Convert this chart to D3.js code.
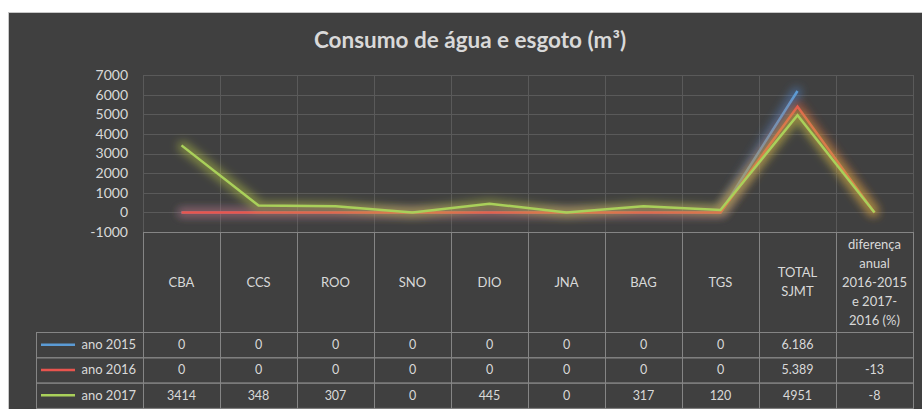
<!DOCTYPE html>
<html>
<head>
<meta charset="utf-8">
<script src="https://d3js.org/d3.v7.min.js"></script>
<style>
  body { margin: 0; background: #fff; }
  svg text { font-family: Lato, "Open Sans", sans-serif; fill: #d9d9d9; }
</style>
</head>
<body>
<div id="chart"></div>
<script>
// categories (table columns)
var categories = ["CBA", "CCS", "ROO", "SNO", "DIO", "JNA", "BAG", "TGS", "TOTAL SJMT", "diferença anual 2016-2015 e 2017-2016 (%)"];
var series = ["ano 2015", "ano 2016", "ano 2017"];
var v2015 = [0, 0, 0, 0, 0, 0, 0, 0, 6186, null];
var v2016 = [0, 0, 0, 0, 0, 0, 0, 0, 5389, -13];
var v2017 = [3414, 348, 307, 0, 445, 0, 317, 120, 4951, -8];
var yTicks = [-1000, 0, 1000, 2000, 3000, 4000, 5000, 6000, 7000];
var colors = ["#5b9bd5", "#e8544e", "#a9d05a"];
var glows = ["#4f86d0", "#d8563c", "#b9c845"];
// header lines for multi-line columns
var headerLines = {
  "TOTAL SJMT": ["TOTAL", "SJMT"],
  "diferença anual 2016-2015 e 2017-2016 (%)": ["diferença", "anual", "2016-2015", "e 2017-", "2016 (%)"]
};
var totalDotted = [true, true, false];

var W = 922, H = 409;
var values = [v2015, v2016, v2017];

var svg = d3.select('#chart').append('svg')
    .attr('width', W).attr('height', H);

// glow filters
var defs = svg.append('defs');
glows.forEach(function(c, i) {
  var f = defs.append('filter').attr('id', 'glow' + i)
      .attr('x', '-20%').attr('y', '-20%').attr('width', '140%').attr('height', '140%');
  f.append('feMorphology').attr('in', 'SourceAlpha').attr('operator', 'dilate').attr('radius', 2.5).attr('result', 'dil');
  f.append('feGaussianBlur').attr('in', 'dil').attr('stdDeviation', 4.5).attr('result', 'blur');
  f.append('feFlood').attr('flood-color', c).attr('flood-opacity', 0.5).attr('result', 'col');
  f.append('feComposite').attr('in', 'col').attr('in2', 'blur').attr('operator', 'in').attr('result', 'g');
  var m = f.append('feMerge');
  m.append('feMergeNode').attr('in', 'g');
  m.append('feMergeNode').attr('in', 'SourceGraphic');
});

svg.append('rect')
    .attr('x', 8.5).attr('y', 12.5).attr('width', W).attr('height', H)
    .attr('fill', '#404040').attr('stroke', '#c8c8c8');

svg.append('text')
    .attr('x', 470).attr('y', 48)
    .attr('text-anchor', 'middle')
    .style('font-size', '22.5px').style('font-weight', 'bold')
    .attr('fill', '#e6e6e6')
    .text('Consumo de água e esgoto (m³)');

var x = d3.scaleBand().domain(categories).range([143, 913]);
var y = d3.scaleLinear().domain([-1000, 7000]).range([232, 75]);

// gridlines
var grid = svg.append('g').attr('stroke', '#5a5a5a').attr('stroke-width', 1);
grid.selectAll('line.h').data(yTicks).enter().append('line')
    .attr('x1', 143).attr('x2', 913)
    .attr('y1', function(d) { return Math.round(y(d)) + 0.5; })
    .attr('y2', function(d) { return Math.round(y(d)) + 0.5; });
grid.selectAll('line.v').data(categories.concat([null])).enter().append('line')
    .attr('x1', function(d, i) { return Math.round(143 + i * x.bandwidth()) + 0.5; })
    .attr('x2', function(d, i) { return Math.round(143 + i * x.bandwidth()) + 0.5; })
    .attr('y1', y(7000)).attr('y2', y(-1000));

// y axis labels
var yAxis = d3.axisLeft(y).tickValues(yTicks).tickSize(0).tickPadding(0)
    .tickFormat(function(d) { return String(d); });
var ga = svg.append('g').attr('transform', 'translate(128,0)').call(yAxis);
ga.select('.domain').remove();
ga.selectAll('text').style('font-size', '14px').attr('fill', '#d9d9d9')
    .style('font-family', 'Lato, sans-serif');

// lines
var line = d3.line()
    .defined(function(d) { return d != null; })
    .x(function(d, i) { return x(categories[i]) + x.bandwidth() / 2; })
    .y(function(d) { return y(d); });

values.forEach(function(vals, i) {
  svg.append('path')
      .datum(vals)
      .attr('d', line)
      .attr('fill', 'none')
      .attr('stroke', colors[i])
      .attr('stroke-width', 2.5)
      .attr('filter', 'url(#glow' + i + ')');
});

// data table
var headTop = 232, headBot = 332, rowH = 25.3;
var tb = svg.append('g');
var border = '#858585';
var fmtDot = d3.formatLocale({decimal: ',', thousands: '.', grouping: [3], currency: ['', '']}).format(',d');

// header cells
tb.selectAll('rect.hc').data(categories).enter().append('rect')
    .attr('x', function(d) { return x(d) + 0.5; }).attr('y', headTop + 0.5)
    .attr('width', x.bandwidth()).attr('height', headBot - headTop)
    .attr('fill', 'none').attr('stroke', border);

tb.selectAll('text.hc').data(categories).enter().append('text')
    .attr('text-anchor', 'middle')
    .style('font-size', '13px')
    .each(function(d) {
      var lines = headerLines[d] || [d];
      var cx = x(d) + x.bandwidth() / 2;
      var mid = (headTop + headBot) / 2;
      var lh = 19;
      var t = d3.select(this);
      lines.forEach(function(l, k) {
        t.append('tspan')
            .attr('x', cx)
            .attr('y', mid + (k - (lines.length - 1) / 2) * lh + 4.5)
            .text(l);
      });
    });

// rows
series.forEach(function(s, r) {
  var top = headBot + r * rowH;
  var g = tb.append('g');
  g.append('rect').attr('x', 36.5).attr('y', top + 0.5)
      .attr('width', 143 - 36).attr('height', rowH)
      .attr('fill', 'none').attr('stroke', border);
  g.append('line').attr('x1', 41).attr('x2', 75)
      .attr('y1', top + rowH / 2).attr('y2', top + rowH / 2)
      .attr('stroke', colors[r]).attr('stroke-width', 2.5);
  g.append('text').attr('x', 136).attr('y', top + rowH / 2 + 4.5)
      .attr('text-anchor', 'end').style('font-size', '13px').text(s);

  g.selectAll('rect.c').data(categories).enter().append('rect')
      .attr('x', function(d) { return x(d) + 0.5; }).attr('y', top + 0.5)
      .attr('width', x.bandwidth()).attr('height', rowH)
      .attr('fill', 'none').attr('stroke', border);
  g.selectAll('text.c').data(values[r]).enter().append('text')
      .attr('x', function(d, i) { return x(categories[i]) + x.bandwidth() / 2; })
      .attr('y', top + rowH / 2 + 4.5)
      .attr('text-anchor', 'middle').style('font-size', '12.5px')
      .text(function(d, i) {
        if (d == null) return '';
        if (i === 8 && totalDotted[r]) return fmtDot(d);
        return d;
      });
});
</script>
</body>
</html>
